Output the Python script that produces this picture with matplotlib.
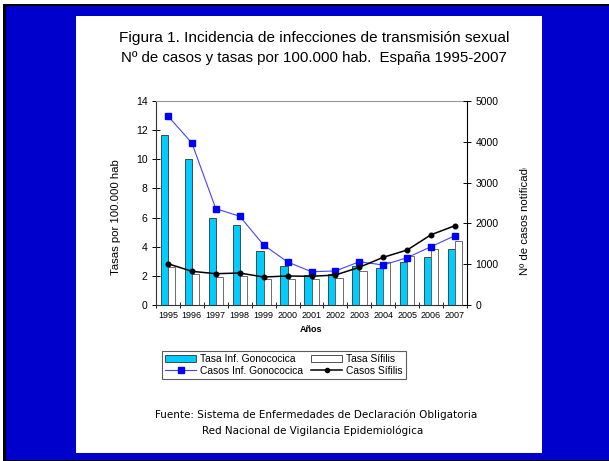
import matplotlib
matplotlib.use("Agg")
import matplotlib.pyplot as plt
import numpy as np
from matplotlib.patches import Rectangle
from matplotlib.lines import Line2D
from matplotlib.transforms import Bbox, TransformedBbox

years = ["1995", "1996", "1997", "1998", "1999", "2000", "2001",
         "2002", "2003", "2004", "2005", "2006", "2007"]
tasa_gono = [11.7, 10.05, 6.0, 5.5, 3.7, 2.65, 2.05, 2.1, 2.68, 2.52, 2.93, 3.27, 3.82]
tasa_sif = [2.63, 2.1, 1.9, 1.99, 1.76, 1.76, 1.76, 1.87, 2.33, 2.93, 3.36, 3.86, 4.39]
casos_gono = [4630, 3970, 2360, 2175, 1470, 1055, 815, 835, 1060, 980, 1160, 1430, 1700]
casos_sif = [1012, 826, 767, 784, 686, 711, 703, 735, 924, 1169, 1348, 1723, 1944]

FONT = ["Liberation Sans", "DejaVu Sans"]
plt.rcParams['font.family'] = FONT

W, H = 609, 461
fig = plt.figure(figsize=(W / 100, H / 100), dpi=100, facecolor="white")

def px_rect(x0, y0, x1, y1, color, z):
    fig.patches.append(Rectangle((x0 / W, 1 - y1 / H), (x1 - x0) / W, (y1 - y0) / H,
                                 transform=fig.transFigure, facecolor=color,
                                 edgecolor="none", zorder=z))

px_rect(3, 4, 620, 470, "black", -3)
px_rect(6, 6, 620, 460, "#0000CC", -2)
px_rect(76, 16, 542, 453, "white", -1)

ax = fig.add_axes([156 / W, 1 - 305 / H, (467 - 156) / W, (305 - 101) / H])
ax.patch.set_alpha(0)
x = np.arange(len(years))
bw = 0.3
ax.bar(x - bw / 2, tasa_gono, width=bw, color="#00CCFF", edgecolor="#333333", linewidth=0.6, zorder=2)
ax.bar(x + bw / 2, tasa_sif, width=bw, color="white", edgecolor="#555555", linewidth=0.6, zorder=2)
ax.set_ylim(0, 14)
ax.set_xlim(-0.5, len(years) - 0.5)
ax.set_yticks(np.arange(0, 15, 2))
ax.set_xticks(x)
ax.set_xticklabels(years, fontsize=6.5)
ax.set_xticks(np.arange(-0.5, len(years), 1), minor=True)
ax.tick_params(axis="x", which="major", length=0, pad=4)
ax.tick_params(axis="x", which="minor", direction="inout", length=5, width=0.6)
ax.tick_params(axis="y", direction="inout", length=6, width=0.7, labelsize=7.5, pad=3)
ax.set_ylabel("Tasas por 100.000 hab", fontsize=8.2)
ax.yaxis.set_label_coords(-0.113, 0.43)
ax.set_xlabel("Años", fontsize=6.5, fontweight="bold", labelpad=4)
for s in ["left", "bottom"]:
    ax.spines[s].set_color("#333333")
    ax.spines[s].set_linewidth(0.8)
ax.spines["top"].set_color("#999999")
ax.spines["top"].set_linewidth(0.8)
ax.spines["right"].set_visible(False)

ax2 = ax.twinx()
ax2.plot(x, casos_gono, color="#4444FF", linewidth=0.8, marker="s", markersize=4.3,
         markerfacecolor="#0000FF", markeredgecolor="#0000FF", zorder=3)
ax2.plot(x, casos_sif, color="black", linewidth=1.1, marker="o", markersize=3.3,
         markerfacecolor="black", zorder=3)
ax2.set_ylim(0, 5000)
ax2.set_yticks(np.arange(0, 5001, 1000))
ax2.tick_params(axis="y", direction="inout", length=6, width=0.7, labelsize=7.5, pad=3)
ax2.set_ylabel("Nº de casos notificados", fontsize=8.2)
ax2.yaxis.set_label_coords(1.17, 0.44)
lab = ax2.yaxis.label
lab.set_clip_on(True)
lab.set_clip_box(TransformedBbox(Bbox([[0, 0], [1, 1 - 168 / H]]), fig.transFigure))
ax2.spines["right"].set_color("black")
ax2.spines["right"].set_linewidth(0.8)
for s in ["top", "left", "bottom"]:
    ax2.spines[s].set_visible(False)

handles = [
    Rectangle((0, 0), 1, 1, facecolor="#00CCFF", edgecolor="#333333", linewidth=0.6),
    Line2D([], [], color="#4444FF", linewidth=0.8, marker="s", markersize=4,
           markerfacecolor="#0000FF", markeredgecolor="#0000FF"),
    Rectangle((0, 0), 1, 1, facecolor="white", edgecolor="#333333", linewidth=0.6),
    Line2D([], [], color="black", linewidth=1.1, marker="o", markersize=3),
]
labels = ["Tasa Inf. Gonococica", "Casos Inf. Gonococica", "Tasa Sífilis", "Casos Sífilis"]
leg = fig.legend(handles, labels, ncol=2, loc="center",
                 bbox_to_anchor=(284 / W, 1 - 365 / H),
                 frameon=True, fancybox=False, edgecolor="#333333", borderpad=0.3,
                 handlelength=3.0, handleheight=0.7, handletextpad=0.4,
                 columnspacing=0.8, labelspacing=0.2, prop={"size": 7.4})
leg.get_frame().set_linewidth(0.8)

fig.text(314 / W, 1 - 38 / H, "Figura 1. Incidencia de infecciones de transmisión sexual",
         ha="center", va="center", fontsize=11.1)
fig.text(314 / W, 1 - 58 / H, "Nº de casos y tasas por 100.000 hab.  España 1995-2007",
         ha="center", va="center", fontsize=10.8)

fig.text(316 / W, 1 - 415 / H,
         "Fuente: Sistema de Enfermedades de Declaración Obligatoria",
         ha="center", va="center", fontsize=7.5, family=["DejaVu Sans"])
fig.text(313 / W, 1 - 431 / H, "Red Nacional de Vigilancia Epidemiológica",
         ha="center", va="center", fontsize=7.5, family=["DejaVu Sans"])

fig.savefig("out.png", dpi=100)
